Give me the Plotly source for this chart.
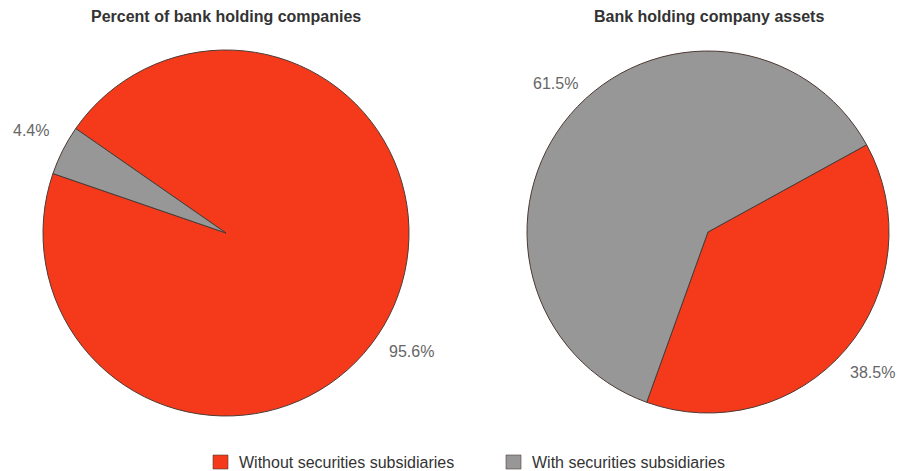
import plotly.graph_objects as go

# Shares of bank holding companies, with and without securities subsidiaries
categories = ["Without securities subsidiaries", "With securities subsidiaries"]
pct_companies = [95.6, 4.4]
pct_assets = [38.5, 61.5]
titles = ["Percent of bank holding companies", "Bank holding company assets"]

RED = "#F53A1C"
GRAY = "#979797"
EDGE = "#4d3a34"
TEXT = "#333333"
LABEL = "#666666"
FONT = "Liberation Sans, Arial, sans-serif"
COLORS = [RED, GRAY]

W, H = 911, 471

fig = go.Figure()

fig.add_trace(go.Pie(
    labels=categories, values=pct_companies, sort=False,
    direction="clockwise", rotation=-55.2,
    marker=dict(colors=COLORS, line=dict(color=EDGE, width=1)),
    textinfo="none", hoverinfo="label+percent",
    domain=dict(x=[43 / W, 409 / W], y=[1 - 416 / H, 1 - 50 / H]),
))

fig.add_trace(go.Pie(
    labels=categories, values=pct_assets, sort=False,
    direction="clockwise", rotation=61.2,
    marker=dict(colors=COLORS, line=dict(color=EDGE, width=1)),
    textinfo="none", hoverinfo="label+percent",
    domain=dict(x=[527 / W, 889 / W], y=[1 - 413 / H, 1 - 51 / H]),
))

# percentage labels placed just outside each slice
label_pos = [
    (pct_companies[0], 411, 351),
    (pct_companies[1], 31, 131),
    (pct_assets[0], 872, 372),
    (pct_assets[1], 555, 84),
]
annotations = []
for v, px, py in label_pos:
    annotations.append(dict(
        x=px / W, y=1 - py / H, xref="paper", yref="paper",
        text=f"{v}%", showarrow=False,
        font=dict(size=16, color=LABEL, family=FONT),
        xanchor="center", yanchor="middle",
    ))

# panel titles
for t, cx in zip(titles, [226, 709]):
    annotations.append(dict(
        x=cx / W, y=1 - 17 / H, xref="paper", yref="paper",
        text=f"<b>{t}</b>", showarrow=False,
        font=dict(size=16, color=TEXT, family=FONT),
        xanchor="center", yanchor="middle",
    ))

# shared key along the bottom edge
shapes = []
for name, col, sx in zip(categories, COLORS, [213, 506]):
    shapes.append(dict(
        type="rect", xref="paper", yref="paper",
        x0=sx / W, x1=(sx + 15) / W, y0=1 - 469 / H, y1=1 - 455 / H,
        fillcolor=col, line=dict(color=EDGE, width=0.6),
    ))
    annotations.append(dict(
        x=(sx + 24) / W, y=1 - 462 / H, xref="paper", yref="paper",
        text=name, showarrow=False,
        font=dict(size=16, color=TEXT, family=FONT),
        xanchor="left", yanchor="middle",
    ))

fig.update_layout(
    width=W, height=H,
    margin=dict(l=0, r=0, t=0, b=0),
    paper_bgcolor="white", plot_bgcolor="white",
    annotations=annotations,
    shapes=shapes,
    showlegend=False,
    font=dict(family=FONT),
)

fig.write_html("out.html")
